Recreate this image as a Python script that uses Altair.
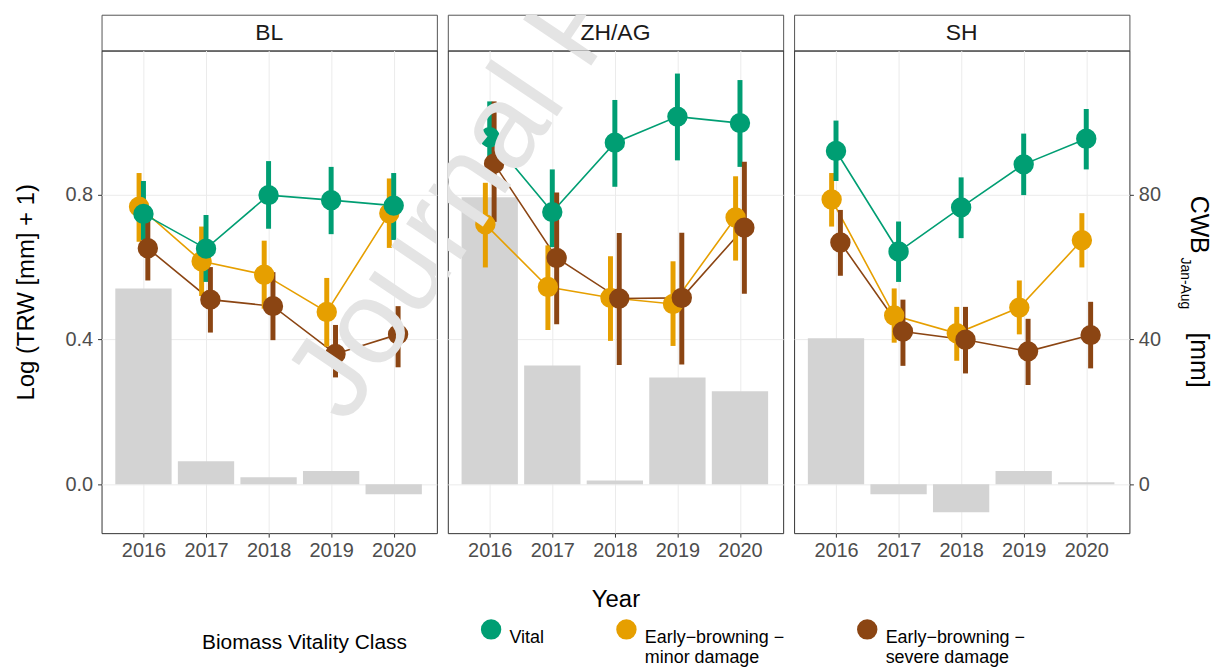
import altair as alt
import pandas as pd

FONT = "Liberation Sans"

years = [2016, 2017, 2018, 2019, 2020]
sites = ["BL", "ZH/AG", "SH"]
class_order = ["Vital", "Early−browning − minor damage", "Early−browning − severe damage"]
class_colors = ["#009E73", "#E69F00", "#8B4513"]
draw_order = ["Early−browning − minor damage", "Vital", "Early−browning − severe damage"]

# CWB Jan-Aug [mm] (bars, right axis)
cwb_BL = [54.1, 6.3, 1.9, 3.6, -2.8]
cwb_ZH = [79.3, 32.8, 1.0, 29.5, 25.7]
cwb_SH = [40.3, -2.8, -7.8, 3.6, 0.5]

# Log (TRW [mm] + 1): mean, lower, upper
BL_vital = [0.747, 0.651, 0.799, 0.785, 0.770]
BL_vital_lo = [0.675, 0.559, 0.706, 0.691, 0.675]
BL_vital_hi = [0.838, 0.744, 0.893, 0.877, 0.860]
BL_minor = [0.767, 0.616, 0.579, 0.476, 0.749]
BL_minor_lo = [0.670, 0.520, 0.485, 0.380, 0.653]
BL_minor_hi = [0.860, 0.712, 0.673, 0.570, 0.845]
BL_severe = [0.652, 0.510, 0.492, 0.360, 0.414]
BL_severe_lo = [0.563, 0.419, 0.398, 0.295, 0.323]
BL_severe_hi = [0.741, 0.600, 0.586, 0.440, 0.492]

ZH_vital = [0.959, 0.752, 0.944, 1.016, 0.998]
ZH_vital_lo = [0.860, 0.655, 0.822, 0.895, 0.877]
ZH_vital_hi = [1.058, 0.870, 1.062, 1.135, 1.117]
ZH_minor = [0.718, 0.545, 0.515, 0.498, 0.737]
ZH_minor_lo = [0.599, 0.426, 0.396, 0.382, 0.618]
ZH_minor_hi = [0.833, 0.660, 0.630, 0.616, 0.851]
ZH_severe = [0.886, 0.625, 0.513, 0.515, 0.709]
ZH_severe_lo = [0.725, 0.442, 0.329, 0.331, 0.526]
ZH_severe_hi = [1.058, 0.806, 0.694, 0.695, 0.891]

SH_vital = [0.921, 0.643, 0.765, 0.884, 0.955]
SH_vital_lo = [0.838, 0.559, 0.680, 0.799, 0.870]
SH_vital_hi = [1.005, 0.726, 0.848, 0.969, 1.037]
SH_minor = [0.787, 0.466, 0.417, 0.488, 0.674]
SH_minor_lo = [0.712, 0.391, 0.341, 0.414, 0.599]
SH_minor_hi = [0.860, 0.541, 0.490, 0.563, 0.749]
SH_severe = [0.668, 0.422, 0.399, 0.367, 0.412]
SH_severe_lo = [0.576, 0.327, 0.306, 0.274, 0.320]
SH_severe_hi = [0.758, 0.510, 0.490, 0.457, 0.504]

left_title = "Log (TRW [mm] + 1)"
x_title = "Year"
right_title_parts = ["CWB", "Jan-Aug", "[mm]"]
legend_title = "Biomass Vitality Class"
watermark_text = "Journal Pre-proof"

# ---------- tables ----------
trw = {
    "BL": {"Vital": (BL_vital, BL_vital_lo, BL_vital_hi),
           "Early−browning − minor damage": (BL_minor, BL_minor_lo, BL_minor_hi),
           "Early−browning − severe damage": (BL_severe, BL_severe_lo, BL_severe_hi)},
    "ZH/AG": {"Vital": (ZH_vital, ZH_vital_lo, ZH_vital_hi),
              "Early−browning − minor damage": (ZH_minor, ZH_minor_lo, ZH_minor_hi),
              "Early−browning − severe damage": (ZH_severe, ZH_severe_lo, ZH_severe_hi)},
    "SH": {"Vital": (SH_vital, SH_vital_lo, SH_vital_hi),
           "Early−browning − minor damage": (SH_minor, SH_minor_lo, SH_minor_hi),
           "Early−browning − severe damage": (SH_severe, SH_severe_lo, SH_severe_hi)},
}
rows = []
for s in sites:
    for c in draw_order:
        m, lo, hi = trw[s][c]
        for k, y in enumerate(years):
            rows.append({"site": s, "cls": c, "year": y, "mean": m[k], "lo": lo[k], "hi": hi[k]})
trw_df = pd.DataFrame(rows)

cwb = {"BL": cwb_BL, "ZH/AG": cwb_ZH, "SH": cwb_SH}
cwb_df = pd.DataFrame([{"site": s, "year": y, "cwb": cwb[s][k]}
                       for s in sites for k, y in enumerate(years)])
strip_df = pd.DataFrame({"site": sites})
wm_df = pd.DataFrame({"wm": [watermark_text]})
t_df = pd.DataFrame({"t": right_title_parts})

# ---------- layout constants ----------
W = 337
H = 485
STRIP_H = 36
XDOM = [2015.33, 2020.69]
YDOM = [-0.1355, 1.1986]
CWBDOM = [-13.55, 119.86]
GRID = "#ebebeb"
LABC = "#4d4d4d"
WM_X, WM_Y, WM_ANGLE = 348, 425, 304   # watermark anchor (page px) and angle
PANEL_LEFT = [102, 448, 794]

xscale = alt.Scale(domain=XDOM, nice=False, zero=False)
yscale = alt.Scale(domain=YDOM, nice=False, zero=False)
cwbscale = alt.Scale(domain=CWBDOM, nice=False, zero=False)
cscale = alt.Scale(domain=class_order, range=class_colors)
color_of = dict(zip(class_order, class_colors))
# separate stroke scale (different domain order so its hidden legend is not merged)
sscale = alt.Scale(domain=draw_order, range=[color_of[c] for c in draw_order])

dodge_expr = ("datum.year + (datum.cls == 'Vital' ? 0 : "
              "(indexof(datum.cls, 'minor') >= 0 ? -0.07 : 0.07))")

label_expr = ("indexof(datum.label, ' − ') > 0 ? "
              "[slice(datum.label, 0, indexof(datum.label, ' − ') + 2), "
              "slice(datum.label, indexof(datum.label, ' − ') + 3)] : [datum.label, ' ']")

legend = alt.Legend(
    title=legend_title, orient="none", legendX=101, legendY=607,
    direction="horizontal", titleOrient="left", titleFontSize=21,
    titleFontWeight="normal", titleColor="black", titleFont=FONT, titleLimit=400,
    titlePadding=73, labelFont=FONT, labelFontSize=18, labelColor="black",
    labelBaseline="top", labelLimit=400, labelOffset=8, labelExpr=label_expr,
    symbolType="circle", symbolSize=420, symbolStrokeWidth=0, symbolOpacity=1,
    columnPadding=72,
)


def watermark(x, y):
    return alt.Chart(wm_df).mark_text(
        font=FONT, fontSize=120, color="#e4e4e4", angle=WM_ANGLE, align="left",
        baseline="alphabetic", clip=True
    ).encode(x=alt.value(x), y=alt.value(y), text="wm:N")


def panel(i, site):
    first = i == 0
    last = i == len(sites) - 1
    if i == 1:
        xaxis = alt.Axis(values=years, format="d", labelFontSize=20, labelColor=LABC,
                         labelPadding=3, tickSize=4, tickColor="#333333", domain=False,
                         grid=True, gridColor=GRID, title=x_title, titleFontSize=24,
                         titleFontWeight="normal", titleColor="black", titlePadding=28)
    else:
        xaxis = alt.Axis(values=years, format="d", labelFontSize=20, labelColor=LABC,
                         labelPadding=3, tickSize=4, tickColor="#333333", domain=False,
                         grid=True, gridColor=GRID, title=None)
    if first:
        yaxis = alt.Axis(values=[0, 0.4, 0.8], format=".1f", labelFontSize=20,
                         labelColor=LABC, labelPadding=5, tickSize=4, tickColor="#333333",
                         domain=False, grid=True, gridColor=GRID, title=left_title,
                         titleFontSize=24, titleFontWeight="normal", titleColor="black",
                         titlePadding=27)
    else:
        yaxis = alt.Axis(values=[0, 0.4, 0.8], labels=False, ticks=False, domain=False,
                         grid=True, gridColor=GRID, title=None)

    bar_base = alt.Chart(cwb_df).transform_filter(alt.datum.site == site).transform_calculate(
        x0="datum.year - 0.45", x1="datum.year + 0.45")
    if last:
        cwb_axis = alt.Axis(values=[0, 40, 80], format="d", orient="right", labelFontSize=20,
                            labelColor=LABC, labelPadding=5, tickSize=4,
                            tickColor="#333333", domain=False, grid=False, title=None)
        bars = bar_base.mark_bar(color="#d3d3d3").encode(
            x=alt.X("x0:Q", scale=xscale, axis=xaxis), x2="x1:Q",
            y=alt.Y("cwb:Q", scale=cwbscale, axis=cwb_axis), y2=alt.datum(0))
    else:
        bars = bar_base.mark_bar(color="#d3d3d3").encode(
            x=alt.X("x0:Q", scale=xscale, axis=xaxis), x2="x1:Q",
            y=alt.Y("cwb:Q", scale=cwbscale, axis=None), y2=alt.datum(0))

    base = alt.Chart(trw_df).transform_filter(alt.datum.site == site).transform_calculate(
        xpos=dodge_expr)
    lines = base.mark_line(strokeWidth=1.6).encode(
        x=alt.X("xpos:Q", scale=xscale, axis=xaxis),
        y=alt.Y("mean:Q", scale=yscale, axis=yaxis),
        stroke=alt.Stroke("cls:N", scale=sscale, legend=None),
        detail="cls:N", order="year:Q")
    rules = base.mark_rule(strokeWidth=5).encode(
        x=alt.X("xpos:Q", scale=xscale, axis=xaxis),
        y=alt.Y("lo:Q", scale=yscale, axis=yaxis), y2="hi:Q",
        stroke=alt.Stroke("cls:N", scale=sscale, legend=None))
    points = base.mark_circle(size=420, opacity=1).encode(
        x=alt.X("xpos:Q", scale=xscale, axis=xaxis),
        y=alt.Y("mean:Q", scale=yscale, axis=yaxis),
        color=alt.Color("cls:N", scale=cscale, legend=legend))

    layers = [bars, alt.layer(lines, rules, points)]
    if i in (0, 1):
        layers.append(watermark(WM_X - PANEL_LEFT[i], WM_Y - 48))
    if last:
        layers.append(alt.Chart(t_df).transform_filter(alt.datum.t == right_title_parts[0])
                      .mark_text(font=FONT, fontSize=25, color="black", angle=90,
                                 align="center", baseline="middle")
                      .encode(x=alt.value(W + 70), y=alt.value(175), text="t:N"))
        layers.append(alt.Chart(t_df).transform_filter(alt.datum.t == right_title_parts[1])
                      .mark_text(font=FONT, fontSize=14, color="black", angle=90,
                                 align="center", baseline="middle")
                      .encode(x=alt.value(W + 56), y=alt.value(234), text="t:N"))
        layers.append(alt.Chart(t_df).transform_filter(alt.datum.t == right_title_parts[2])
                      .mark_text(font=FONT, fontSize=25, color="black", angle=90,
                                 align="center", baseline="middle")
                      .encode(x=alt.value(W + 70), y=alt.value(311), text="t:N"))
    return alt.layer(*layers).resolve_scale(y="independent").properties(
        width=W, height=H,
        view=alt.ViewBackground(stroke="#333333", strokeWidth=1))


def strip(i, site):
    t = alt.Chart(strip_df).transform_filter(alt.datum.site == site).mark_text(
        font=FONT, fontSize=23, color="#1a1a1a", baseline="middle", align="center"
    ).encode(x=alt.value(W / 2), y=alt.value(STRIP_H / 2), text="site:N")
    layers = [t]
    if i == 1:
        layers.append(watermark(WM_X - PANEL_LEFT[i], WM_Y - 12))
    return alt.layer(*layers).properties(
        width=W, height=STRIP_H,
        view=alt.ViewBackground(fill="white", stroke="#555555", strokeWidth=1))


cols = [alt.vconcat(strip(i, s), panel(i, s), spacing=0, bounds="flush")
        for i, s in enumerate(sites)]

chart = alt.hconcat(*cols, spacing=9).properties(
    padding={"left": 5, "right": 2, "top": 4, "bottom": 46}
).configure(font=FONT).configure_view(stroke="#333333")

chart.save("out.html", embed_options={"renderer": "svg", "actions": False})
